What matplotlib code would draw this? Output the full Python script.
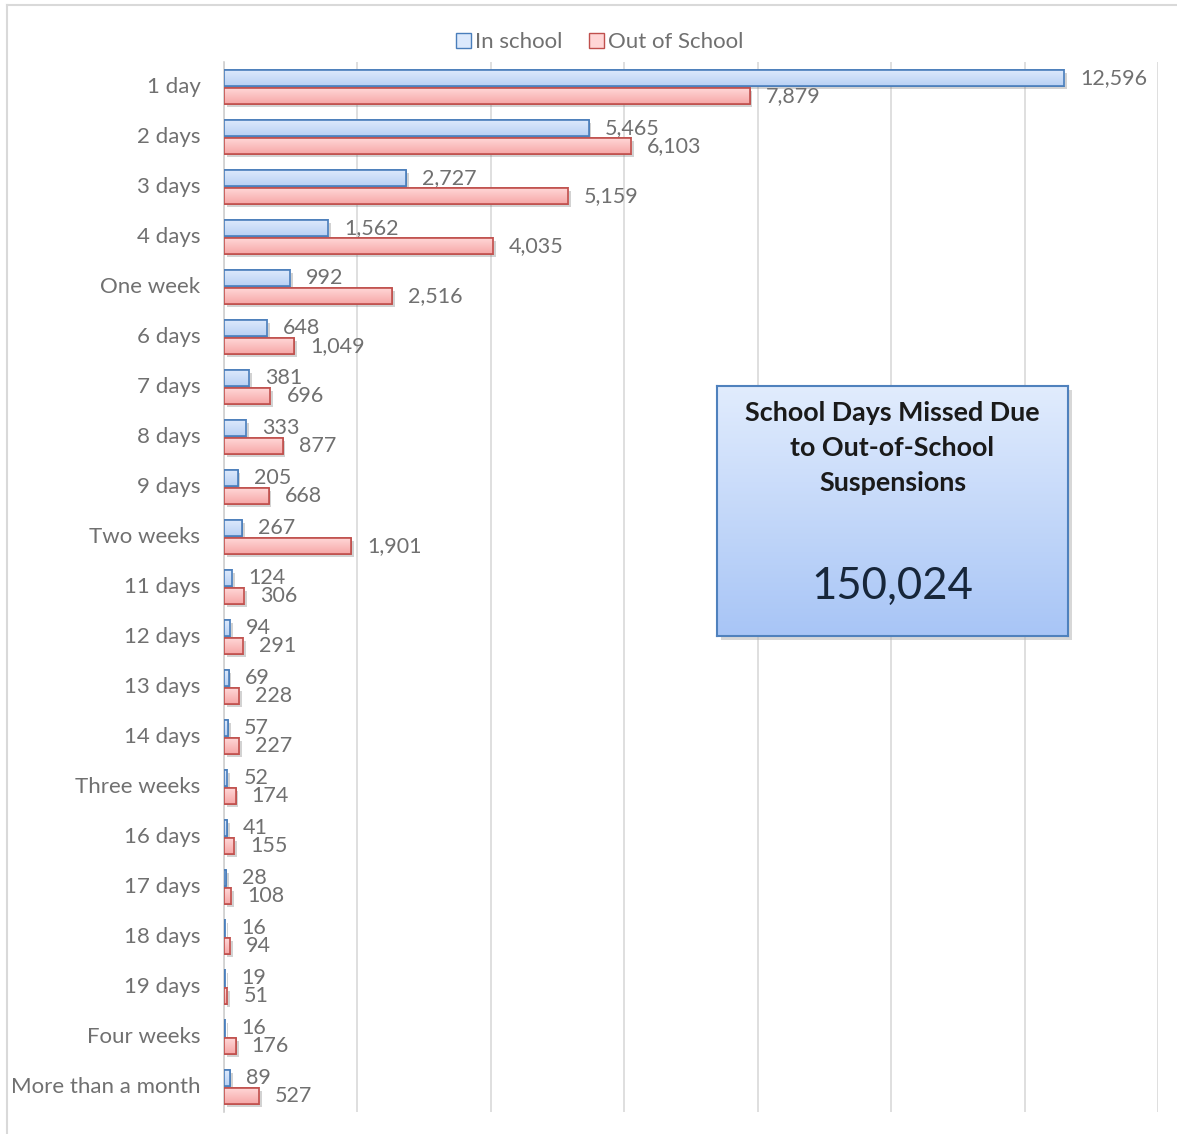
import numpy as np
import matplotlib.pyplot as plt
import matplotlib.patheffects as pe
import matplotlib.transforms as mtransforms
from matplotlib.patches import Patch, Rectangle

plt.rcParams['font.family'] = ['Lato', 'DejaVu Sans']

categories = ['1 day', '2 days', '3 days', '4 days', 'One week', '6 days', '7 days', '8 days',
              '9 days', 'Two weeks', '11 days', '12 days', '13 days', '14 days', 'Three weeks',
              '16 days', '17 days', '18 days', '19 days', 'Four weeks', 'More than a month']
in_school = [12596, 5465, 2727, 1562, 992, 648, 381, 333, 205, 267, 124, 94, 69, 57, 52,
             41, 28, 16, 19, 16, 89]
out_of_school = [7879, 6103, 5159, 4035, 2516, 1049, 696, 877, 668, 1901, 306, 291, 228, 227,
                 174, 155, 108, 94, 51, 176, 527]
series_names = ['In school', 'Out of School']
total_days = 150024
box_title = 'School Days Missed Due\nto Out-of-School\nSuspensions'

W, H = 1177, 1134
fig = plt.figure(figsize=(W / 100, H / 100), dpi=100)

# outer chart border (top and left visible)
fig.add_artist(plt.Line2D([7 / W, 7 / W], [0, 1 - 5 / H], color='#d9d9d9', lw=1.5))
fig.add_artist(plt.Line2D([7 / W, 1], [1 - 5 / H, 1 - 5 / H], color='#d9d9d9', lw=1.5))

ax = fig.add_axes([224 / W, 1 - 1112 / H, (1158 - 224) / W, 1050 / H])
ax.set_xlim(0, 14000)
ax.set_ylim(len(categories) - 0.5, -0.5)

text_gray = '#707070'
blue_edge, red_edge = '#4a7ebb', '#c0504d'
blue_grad = ['#dce9fc', '#b9d1f4']
red_grad = ['#ffd6d6', '#f6a8a8']

y = np.arange(len(categories))
bh = 0.32
off = 0.18

shadow = [pe.SimplePatchShadow(offset=(2, -2), shadow_rgbFace='#808080', alpha=0.35), pe.Normal()]


def grad_bars(vals, ypos, grad, edge):
    bars = ax.barh(ypos, vals, height=bh, color=grad[0], edgecolor=edge, linewidth=1.2, zorder=3)
    cmap = plt.matplotlib.colors.LinearSegmentedColormap.from_list('g', grad)
    g = np.linspace(0, 1, 50).reshape(-1, 1)
    for b in bars:
        b.set_path_effects(shadow)
        x0, y0, w, h = b.get_x(), b.get_y(), b.get_width(), b.get_height()
        im = ax.imshow(g, cmap=cmap, aspect='auto', extent=(x0, x0 + w, y0 + h, y0),
                       zorder=3.5, interpolation='bilinear')
        im.set_clip_path(b)
        ax.add_patch(Rectangle((x0, y0), w, h, fill=False, edgecolor=edge, linewidth=1.2, zorder=4))
    for v, yy in zip(vals, ypos):
        ax.annotate(f'{v:,}', xy=(v, yy), xytext=(16, 0), textcoords='offset pixels',
                    va='center', ha='left', fontsize=15.5, color=text_gray)
    return bars


grad_bars(in_school, y - off, blue_grad, blue_edge)
grad_bars(out_of_school, y + off, red_grad, red_edge)

ax.set_yticks(y)
ax.set_yticklabels(categories, fontsize=16, color=text_gray)
ax.tick_params(axis='y', length=0, pad=17)
# nudge category labels up a little
lift = mtransforms.ScaledTranslation(0, 2 / 100, fig.dpi_scale_trans)
for lbl in ax.get_yticklabels():
    lbl.set_transform(lbl.get_transform() + lift)
ax.set_xticks(np.arange(0, 14001, 2000))
ax.tick_params(axis='x', length=0, labelbottom=False)
ax.grid(axis='x', color='#d9d9d9', linewidth=1.2)
ax.set_axisbelow(True)
for s in ['top', 'right', 'bottom']:
    ax.spines[s].set_visible(False)
ax.spines['left'].set_color('#d0d0d0')
ax.spines['left'].set_linewidth(1.2)

handles = [Patch(facecolor=blue_grad[0], edgecolor=blue_edge, label=series_names[0]),
           Patch(facecolor=red_grad[0], edgecolor=red_edge, label=series_names[1])]
leg = fig.legend(handles=handles, loc='center', bbox_to_anchor=(600 / W, 1 - 42 / H), ncol=2,
                 frameon=False, fontsize=16, handlelength=0.65, handleheight=0.65,
                 handletextpad=0.2, columnspacing=1.2)
for t in leg.get_texts():
    t.set_color(text_gray)

# summary box
bx0, by0, bx1, by1 = 717, 386, 1068, 636
fig.add_artist(Rectangle(((bx0 + 4) / W, 1 - (by1 + 4) / H), (bx1 - bx0) / W, (by1 - by0) / H,
                         transform=fig.transFigure, facecolor='#b0b0b0', alpha=0.5,
                         edgecolor='none', zorder=5))
box = fig.add_axes([bx0 / W, 1 - by1 / H, (bx1 - bx0) / W, (by1 - by0) / H], zorder=6)
box_cmap = plt.matplotlib.colors.LinearSegmentedColormap.from_list('b', ['#e1ecfd', '#a8c5f6'])
box.imshow(np.linspace(0, 1, 100).reshape(-1, 1), cmap=box_cmap, aspect='auto',
           extent=(0, 1, 0, 1), interpolation='bilinear')
box.set_xlim(0, 1)
box.set_ylim(0, 1)
box.set_xticks([])
box.set_yticks([])
for s in box.spines.values():
    s.set_color('#4f81bd')
    s.set_linewidth(1.5)
box.text(0.5, 0.94, box_title, ha='center', va='top', fontsize=19.4, fontweight='bold',
         color='#1a1a1a', linespacing=1.55, transform=box.transAxes)
box.text(0.5, 0.2, f'{total_days:,}', ha='center', va='center', fontsize=31.5,
         color='#17263a', transform=box.transAxes)

fig.savefig('out.png', dpi=100)
